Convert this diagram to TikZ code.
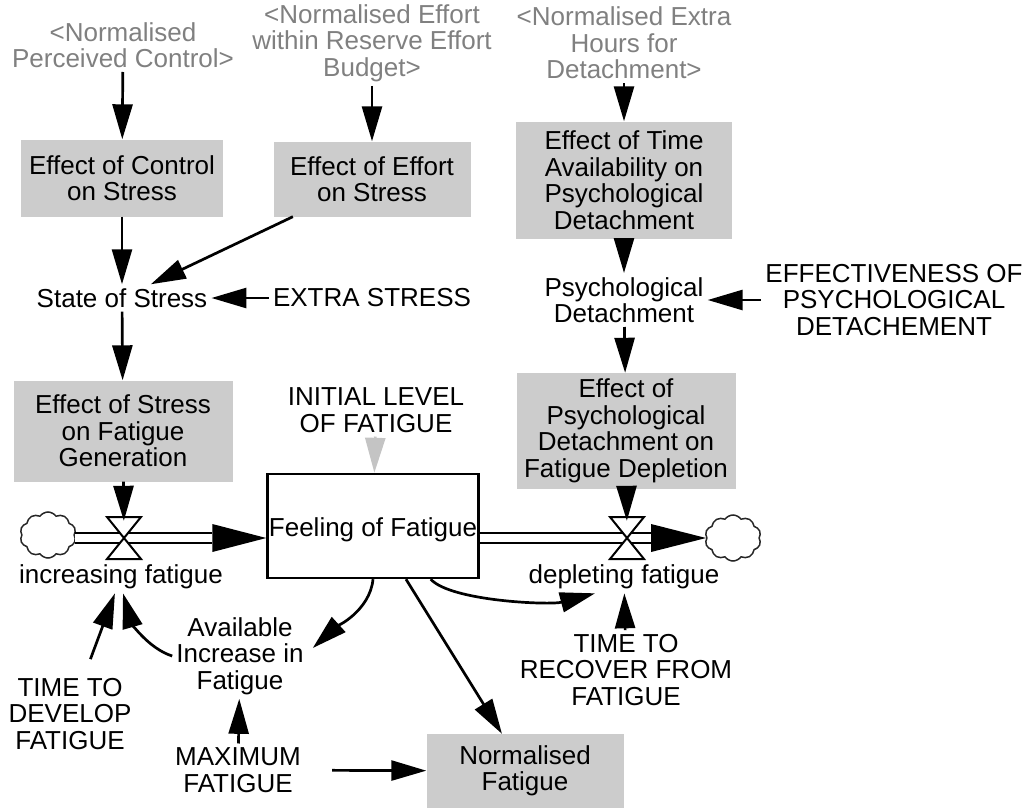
\documentclass[tikz,border=0pt]{standalone}
\usepackage{fontspec}
\setmainfont{Liberation Sans}
\usetikzlibrary{arrows.meta,calc,shapes.symbols}
\definecolor{boxgray}{RGB}{204,204,204}
\definecolor{refgray}{RGB}{128,128,128}
\definecolor{initgray}{RGB}{196,196,196}
\begin{document}
\begin{tikzpicture}[x=1pt,y=-1pt,
  every node/.style={font=\fontsize{26}{26.5}\selectfont, align=center, inner sep=4pt},
  shadowvar/.style={text=refgray},
  auxbox/.style={fill=boxgray, inner sep=0pt},
  link/.style={line width=2.7pt, -{Triangle[length=35pt,width=20pt]}},
  pipe/.style={double, double distance=7.5pt, line width=2.5pt},
  valvepart/.style={draw, fill=white, line width=2pt, line join=miter},
  sink/.style={cloud, cloud puffs=10, cloud puff arc=110, aspect=1.2, draw=black!85,
    line width=1.5pt, minimum width=56pt, minimum height=46pt, inner sep=0pt},
  ratenode/.style={minimum width=34pt, minimum height=34pt, inner sep=0pt}
]
\useasboundingbox (0,0) rectangle (1032,808);

% shadow variables from other views
\node[shadowvar] (g1) at (123,45) {<Normalised\\Perceived Control>};
\node[shadowvar] (g2) at (372,43) {<Normalised Effort\\within Reserve Effort\\Budget>};
\node[shadowvar] (g3) at (624,43) {<Normalised Extra\\Hours for\\Detachment>};

% stress chain
\node[auxbox, minimum width=202pt, minimum height=77pt] (ctl) at (122,178) {Effect of Control\\on Stress};
\node[auxbox, minimum width=197pt, minimum height=75pt] (eff) at (372,179) {Effect of Effort\\on Stress};
\node (state) at (122,298) {State of Stress};
\node (extra) at (372,298) {EXTRA STRESS};
\node[auxbox, minimum width=219pt, minimum height=101pt] (sfg) at (123,431) {Effect of Stress\\on Fatigue\\Generation};

% detachment chain
\node[auxbox, minimum width=216pt, minimum height=117pt] (tim) at (624,180) {Effect of Time\\Availability on\\Psychological\\Detachment};
\node (pd) at (624,300) {Psychological\\Detachment};
\node (epd) at (894,300) {EFFECTIVENESS OF\\PSYCHOLOGICAL\\DETACHEMENT};
\node[auxbox, minimum width=219pt, minimum height=116pt] (dep) at (626,431) {Effect of\\Psychological\\Detachment on\\Fatigue Depletion};

% stock and flows
\node (init) at (376,410) {INITIAL LEVEL\\OF FATIGUE};
\node[draw, line width=2.4pt, minimum width=211pt, minimum height=104pt, inner sep=0pt,
  text height=27pt, text depth=5.5pt] (stock) at (373,526) {Feeling of Fatigue};
\node[sink] (c1) at (48,535) {};
\node[sink] (c2) at (733,538) {};
\node[ratenode] (v1) at (124,538) {};
\node[ratenode] (v2) at (627,538) {};
\node (incr) at (121,577) {increasing fatigue};
\node (depl) at (624,577) {depleting fatigue};

% lower variables
\node (ttrf) at (626,670) {TIME TO\\RECOVER FROM\\FATIGUE};
\node (aif) at (240,656) {Available\\Increase in\\Fatigue};
\node (ttdf) at (70,714) {TIME TO\\DEVELOP\\FATIGUE};
\node (maxf) at (238,770) {MAXIMUM\\FATIGUE};
\node[auxbox, minimum width=197pt, minimum height=74pt] (normf) at (525,771) {Normalised\\Fatigue};

% pipes
\coordinate (in1) at (stock.west |- v1);
\coordinate (out2) at (c2.west |- v2);
\draw[pipe] (c1.east |- v1) -- ($(in1)+(-54,0)$);
\fill ($(in1)+(-54,-14)$) -- (in1) -- ($(in1)+(-54,14)$) -- cycle;
\draw[pipe] (stock.east |- v2) -- ($(out2)+(-55,0)$);
\fill ($(out2)+(-55,-14)$) -- (out2) -- ($(out2)+(-55,14)$) -- cycle;

% valves
\foreach \v in {v1,v2}{
  \draw[valvepart] ($(\v)+(-17,-21)$) -- ($(\v)+(17,-21)$) -- (\v.center) -- cycle;
  \draw[valvepart] ($(\v)+(-17,21)$) -- ($(\v)+(17,21)$) -- (\v.center) -- cycle;
}

% causal links
\draw[link] (g1) -- (ctl);
\draw[link] (g2) -- (eff);
\draw[link] (g3) -- (tim);
\draw[link] (ctl) -- (state);
\draw[link] (eff) -- (state);
\draw[link] (extra) -- (state);
\draw[link] (state) -- (sfg);
\draw[link] (tim) -- (pd);
\draw[link] (epd) -- (pd);
\draw[link] (pd) -- (dep);
\draw[link] (sfg) -- (v1);
\draw[link] (dep) -- (v2);
\draw[link, initgray] (init) -- (stock);
\draw[link] (ttrf) -- (depl);
\draw[link, shorten <=16pt] (ttdf) -- (incr);
\draw[link] (aif.west) .. controls +(-25,-8) and +(8,28) .. ($(incr.south)+(2,0)$);
\draw[link] (stock.south) .. controls +(-3,32) and +(22,-20) .. ($(aif.east)+(5,-8)$);
\draw[link] ($(stock.south east)+(-49,0)$) .. controls +(20,22) and +(-45,12) .. ($(depl.south)+(-29,0)$);
\draw[link] (stock) -- (normf);
\draw[link, shorten <=27pt] (maxf) -- (normf);
\draw[link] (maxf) -- (aif);
\end{tikzpicture}
\end{document}
